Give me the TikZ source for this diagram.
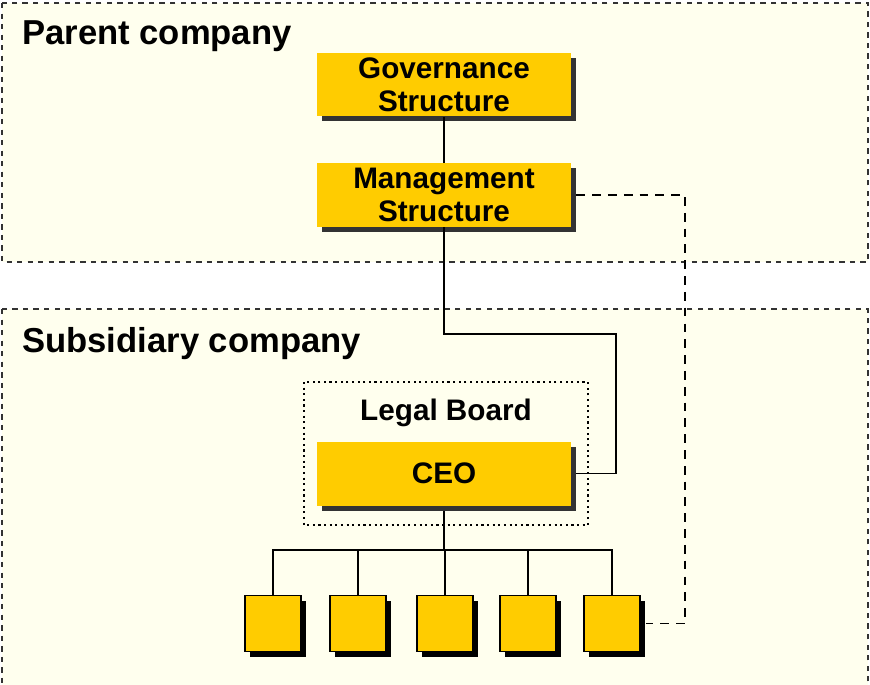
\documentclass[tikz,border=0pt]{standalone}
\usepackage{fontspec}
\setmainfont{Liberation Sans}
\usetikzlibrary{shadows}

\definecolor{orgyellow}{HTML}{FFCC00}
\definecolor{paleback}{HTML}{FFFFEE}
\definecolor{shadowgray}{HTML}{333333}

\begin{document}
\begin{tikzpicture}[x=0.02cm,y=-0.02cm,font=\bfseries,
  company/.style={draw=black!80,dashed,line width=0.6pt,fill=paleback},
  title/.style={anchor=base west,inner sep=0pt,font=\fontsize{19.7}{22}\selectfont\bfseries},
  unit/.style={fill=orgyellow,minimum width=5.08cm,minimum height=1.28cm,inner sep=0pt,align=center,
    font=\fontsize{16.9}{18.7}\selectfont\bfseries,
    drop shadow={shadow xshift=0.1cm,shadow yshift=-0.1cm,fill=shadowgray,opacity=1}},
  dept/.style={draw=black,line width=1pt,fill=orgyellow,minimum size=1.12cm,inner sep=0pt,
    drop shadow={shadow xshift=0.1cm,shadow yshift=-0.1cm,fill=black,opacity=1}},
  link/.style={line width=1.1pt},
  report/.style={line width=1.1pt,dash pattern=on 5pt off 4pt}]

\useasboundingbox (0,0) rectangle (870,684);

% companies
\draw[company] (2,3) rectangle (868,262);
\draw[company] (2,309) rectangle (868,700);
\node[title] (parent) at (22,44) {Parent company};
\node[title] (subsid) at (22,352) {Subsidiary company};

% legal board
\draw[dotted,line width=1.2pt] (304,382) rectangle (588,525);
\node[anchor=base,inner sep=0pt,font=\fontsize{16.9}{18.7}\selectfont\bfseries] (board) at (446,420) {Legal Board};

% boxes
\node[unit] (gov) at (444,84.5) {Governance\\Structure};
\node[unit] (mgmt) at (444,195) {Management\\Structure};
\node[unit] (ceo) at (444,473.5) {CEO};

\foreach \x [count=\i] in {273,358,445,528,612}
  \node[dept] (dept\i) at (\x,623.5) {};

% connectors
\coordinate (m1) at (444,334);
\coordinate (m2) at (616,334);
\coordinate (d1) at (685,195);
\coordinate (bus) at (444,550);

\draw[link] (gov) -- (mgmt);
\draw[link] (mgmt.south) -- (m1) -- (m2) |- ([xshift=0.1cm]ceo.east);
\draw[report] ([xshift=0.1cm]mgmt.east) -- (d1) |- ([xshift=0.1cm]dept5.east);
\draw[link] ([yshift=-0.1cm]ceo.south) -- (bus);
\draw[link] (dept1.north) |- (bus) -| (dept5.north);
\foreach \i in {2,3,4}
  \draw[link] (dept\i.north) -- (dept\i.north |- bus);

\end{tikzpicture}
\end{document}
